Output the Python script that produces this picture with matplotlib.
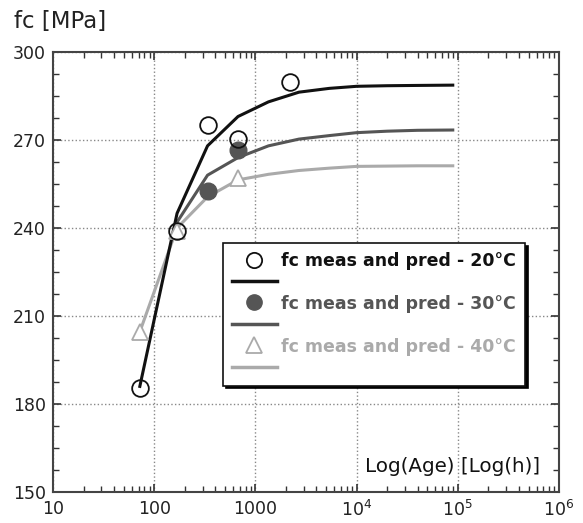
import numpy as np
import matplotlib
matplotlib.use("Agg")
import matplotlib.pyplot as plt
from matplotlib.lines import Line2D
from matplotlib.ticker import FixedLocator, FuncFormatter, LogLocator, NullFormatter

plt.rcParams['font.family'] = ['DejaVu Sans']

# measured strength (hours, MPa)
meas20_h = [72, 168, 336, 672, 2200]
meas20_fc = [185.5, 239.0, 275.2, 270.4, 289.8]
meas30_h = [168, 336, 672]
meas30_fc = [239.0, 252.7, 266.6]
meas40_h = [72, 168, 672]
meas40_fc = [204.6, 239.0, 257.0]

# predicted curves
pred_h = [72, 168, 336, 672, 1344, 2688, 5376, 10000, 20000, 40000, 89000]
pred20 = [186.0, 245.0, 268.0, 278.0, 283.0, 286.3, 287.6, 288.3, 288.5, 288.6, 288.7]
pred30_h = pred_h[1:]
pred30 = [242.0, 258.0, 264.0, 268.0, 270.3, 271.5, 272.5, 273.0, 273.3, 273.4]
pred40 = [204.6, 240.0, 250.6, 256.4, 258.3, 259.6, 260.4, 261.0, 261.1, 261.2, 261.2]

labels = ["fc meas and pred - 20°C", "fc meas and pred - 30°C", "fc meas and pred - 40°C"]
c20, c30, c40 = "#111111", "#555555", "#aaaaaa"

fig = plt.figure(figsize=(5.83, 5.23), dpi=100)
ax = fig.add_axes([0.091, 0.0593, 0.868, 0.8413])

ax.plot(pred_h, pred40, color=c40, lw=2.2, zorder=2)
ax.plot(pred30_h, pred30, color=c30, lw=2.2, zorder=3)
ax.plot(pred_h, pred20, color=c20, lw=2.2, zorder=4)
ax.plot(meas40_h, meas40_fc, ls='none', marker='^', ms=11, mfc='white', mec=c40, mew=1.3, zorder=5)
ax.plot(meas30_h[1:], meas30_fc[1:], ls='none', marker='o', ms=12, mfc=c30, mec=c30, zorder=6)
ax.plot(meas20_h, meas20_fc, ls='none', marker='o', ms=12, mfc='none', mec=c20, mew=1.3, zorder=7)

ax.set_xscale('log')
ax.set_xlim(10, 1e6)
ax.set_ylim(150, 300)
ax.yaxis.set_major_locator(FixedLocator([150, 180, 210, 240, 270, 300]))
ax.yaxis.set_minor_locator(FixedLocator(np.arange(150, 300.1, 7.5)))
ax.xaxis.set_major_locator(LogLocator(base=10, numticks=10))
ax.xaxis.set_minor_locator(LogLocator(base=10, subs=np.arange(2, 10), numticks=20))
ax.xaxis.set_minor_formatter(NullFormatter())

xtl = {10: "10", 100: "100", 1000: "1000", 10000: "$10^4$", 100000: "$10^5$", 1000000: "$10^6$"}
ax.xaxis.set_major_formatter(FuncFormatter(lambda v, p: xtl.get(int(round(v)), "")))

ax.tick_params(which='both', direction='in', top=True, right=True, colors='#333333',
               labelsize=12.5, labelcolor='#222222')
ax.tick_params(which='major', length=6, width=1.2)
ax.tick_params(which='minor', length=4, width=1.0)
ax.tick_params(axis='x', pad=6)
ax.tick_params(axis='y', pad=5)
for s in ax.spines.values():
    s.set_color('#444444')
    s.set_linewidth(1.5)
ax.grid(True, which='major', ls=':', color='#888888', lw=1.0)

fig.text(0.024, 0.958, "fc [MPa]", fontsize=16.5, color='#222222', va='center')
ax.text(0.963, 0.057, "Log(Age) [Log(h)]", transform=ax.transAxes, ha='right', va='center',
        fontsize=14.3, color='#111111')

handles = [
    Line2D([], [], ls='none', marker='o', ms=11, mfc='white', mec=c20, mew=1.3),
    Line2D([], [], color=c20, lw=2.5),
    Line2D([], [], ls='none', marker='o', ms=11, mfc=c30, mec=c30),
    Line2D([], [], color=c30, lw=2.5),
    Line2D([], [], ls='none', marker='^', ms=11, mfc='white', mec=c40, mew=1.3),
    Line2D([], [], color=c40, lw=2.5),
]
leg = ax.legend(handles, [labels[0], " ", labels[1], " ", labels[2], " "],
                loc='upper left', bbox_to_anchor=(0.336, 0.566), borderaxespad=0,
                frameon=True, fancybox=False,
                shadow={'color': 'black', 'alpha': 1}, framealpha=1, edgecolor='#111111',
                handlelength=2.6, handletextpad=0.25, labelspacing=0.2, borderpad=0.5,
                prop={'weight': 'bold', 'size': 12.5})
leg.get_frame().set_linewidth(1.2)
leg.set_zorder(10)
for t, c in zip(leg.get_texts(), [c20, c20, c30, c30, c40, c40]):
    t.set_color(c)

fig.savefig("out.png", dpi=100)
